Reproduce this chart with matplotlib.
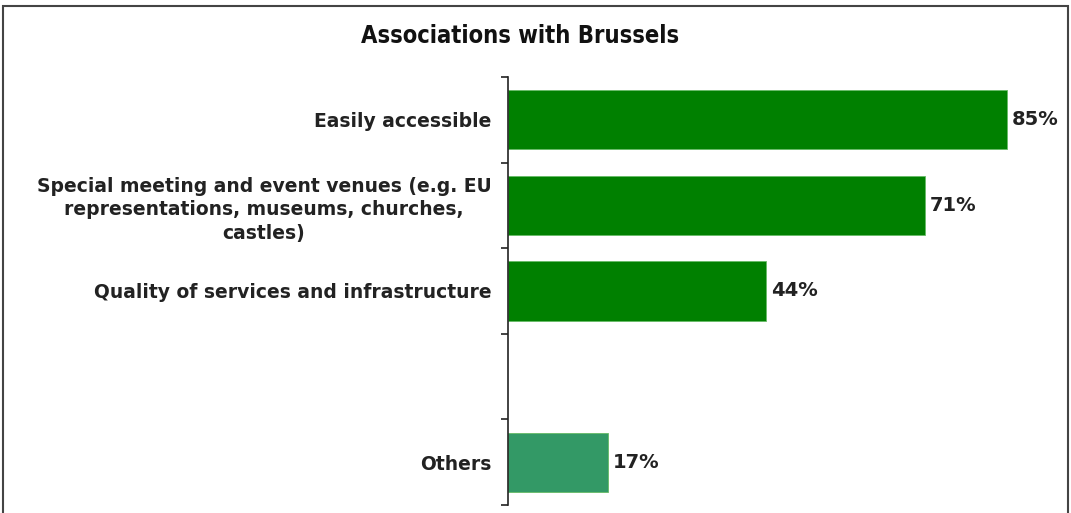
import numpy as np
import matplotlib.pyplot as plt
from matplotlib.patches import Rectangle
from matplotlib import font_manager as fm

# data (top to bottom, one empty slot)
categories = ['Easily accessible',
              'Special meeting and event venues (e.g. EU\nrepresentations, museums, churches,\ncastles)',
              'Quality of services and infrastructure',
              '',
              'Others']
values = [85, 71, 44, None, 17]
colors = ['#008000', '#008000', '#008000', None, '#339966']

# pick the faces explicitly (wide bold ~ Verdana bold, condensed bold for the title)
bold_path = None
cond_path = None
for f in fm.fontManager.ttflist:
    base = f.fname.split('/')[-1]
    if base == 'DejaVuSans-Bold.ttf':
        bold_path = f.fname
    if base == 'DejaVuSansCondensed-Bold.ttf':
        cond_path = f.fname
lab_font = fm.FontProperties(fname=bold_path, size=13.5) if bold_path else fm.FontProperties(weight='bold', size=13.5)
val_font = fm.FontProperties(fname=bold_path, size=14) if bold_path else fm.FontProperties(weight='bold', size=14)
ttl_font = fm.FontProperties(fname=cond_path, size=17) if cond_path else fm.FontProperties(weight='bold', size=15)

fig = plt.figure(figsize=(10.71, 5.13), dpi=100)
ax = fig.add_axes([508 / 1071, 8 / 513, (1066 - 508) / 1071, (505 - 77) / 513])

# frame around the whole picture
fig.patches.append(Rectangle((3 / 1071, -0.01), 1 - 6 / 1071, 1 - 6 / 513 + 0.01,
                             transform=fig.transFigure, fill=False,
                             edgecolor='#444444', linewidth=1.5))

pos = np.arange(len(categories))
for i, (v, c) in enumerate(zip(values, colors)):
    if v is None:
        continue
    ax.barh(pos[i], v, height=0.69, color=c, edgecolor='#66bb66', linewidth=0.6)
    ax.text(v + 0.8, pos[i], f'{v}%', va='center', ha='left',
            fontproperties=val_font, color='#222222')

ax.set_ylim(len(categories) - 0.5, -0.5)
ax.set_xlim(0, 95)
ax.set_yticks(pos)
ax.set_yticklabels(categories, fontproperties=lab_font, color='#222222',
                   multialignment='center', linespacing=1.3)
ax.tick_params(axis='y', which='major', length=0, pad=12)
ax.set_yticks(np.arange(-0.5, len(categories)), minor=True)
ax.tick_params(axis='y', which='minor', length=5, width=1.2, color='#222222')
ax.set_xticks([])
for s in ['top', 'right', 'bottom']:
    ax.spines[s].set_visible(False)
ax.spines['left'].set_linewidth(1.2)
ax.spines['left'].set_color('#222222')

fig.text(520 / 1071, 1 - 36 / 513, 'Associations with Brussels', ha='center',
         va='center', fontproperties=ttl_font, color='#111111')

fig.savefig('out.png', dpi=100)
